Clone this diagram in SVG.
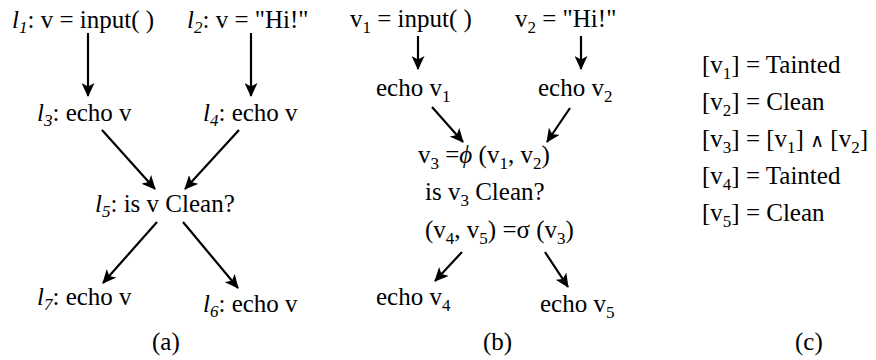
<svg xmlns="http://www.w3.org/2000/svg" width="876" height="360" viewBox="0 0 876 360">
<style>
text{font-family:"Liberation Serif","Times New Roman",serif;font-size:25px;fill:#000}
.i{font-style:italic}
.s{font-size:17px}
.w{font-family:"DejaVu Sans",sans-serif;font-size:19px}
.e{stroke:#000;stroke-width:2.2;fill:none;marker-end:url(#ah)}
</style>
<defs>
<marker id="ah" markerUnits="userSpaceOnUse" markerWidth="15" markerHeight="13" refX="13" refY="6.5" orient="auto">
<path d="M0,0 L14,6.5 L0,13 L3.5,6.5 z" fill="#000"/>
</marker>
</defs>
<rect width="876" height="360" fill="#fff"/>
<g id="connectors">
<line class="e" x1="88" y1="33" x2="88" y2="96"/>
<line class="e" x1="251" y1="33" x2="251" y2="96"/>
<line class="e" x1="102" y1="130" x2="155" y2="189"/>
<line class="e" x1="239" y1="130" x2="185" y2="189"/>
<line class="e" x1="157" y1="222" x2="103" y2="283"/>
<line class="e" x1="183" y1="222" x2="238" y2="288"/>
<line class="e" x1="418" y1="36" x2="418" y2="69"/>
<line class="e" x1="581" y1="36" x2="581" y2="69"/>
<line class="e" x1="432" y1="107" x2="463" y2="142"/>
<line class="e" x1="570" y1="108" x2="547" y2="142"/>
<line class="e" x1="462" y1="252" x2="435" y2="281"/>
<line class="e" x1="545" y1="252" x2="568" y2="287"/>
</g>
<g id="a_l1"><text x="12" y="28"><tspan class="i">l</tspan><tspan class="i s" dy="5">1</tspan><tspan dy="-5">: v = input( )</tspan></text></g>
<g id="a_l2"><text x="187" y="28"><tspan class="i">l</tspan><tspan class="i s" dy="5">2</tspan><tspan dy="-5">: v = "Hi!"</tspan></text></g>
<g id="a_l3"><text x="37" y="121"><tspan class="i">l</tspan><tspan class="i s" dy="5">3</tspan><tspan dy="-5">: echo v</tspan></text></g>
<g id="a_l4"><text x="203" y="121"><tspan class="i">l</tspan><tspan class="i s" dy="5">4</tspan><tspan dy="-5">: echo v</tspan></text></g>
<g id="a_l5"><text x="95" y="212"><tspan class="i">l</tspan><tspan class="i s" dy="5">5</tspan><tspan dy="-5">: is v Clean?</tspan></text></g>
<g id="a_l7"><text x="37" y="305"><tspan class="i">l</tspan><tspan class="i s" dy="5">7</tspan><tspan dy="-5">: echo v</tspan></text></g>
<g id="a_l6"><text x="203" y="312"><tspan class="i">l</tspan><tspan class="i s" dy="5">6</tspan><tspan dy="-5">: echo v</tspan></text></g>
<g id="cap_a"><text x="152" y="350">(a)</text></g>
<g id="b_v1"><text x="350" y="27">v<tspan class="s" dy="6">1</tspan><tspan dy="-6"> = input( )</tspan></text></g>
<g id="b_v2"><text x="515" y="27">v<tspan class="s" dy="6">2</tspan><tspan dy="-6"> = "Hi!"</tspan></text></g>
<g id="b_e1"><text x="376" y="96">echo v<tspan class="s" dy="6">1</tspan></text></g>
<g id="b_e2"><text x="538" y="96">echo v<tspan class="s" dy="6">2</tspan></text></g>
<g id="b_phi"><text x="418" y="163">v<tspan class="s" dy="6">3</tspan><tspan dy="-6"> =</tspan><tspan class="i">ϕ</tspan> (v<tspan class="s" dy="6">1</tspan><tspan dy="-6">, v</tspan><tspan class="s" dy="6">2</tspan><tspan dy="-6">)</tspan></text></g>
<g id="b_is"><text x="425" y="200">is v<tspan class="s" dy="6">3</tspan><tspan dy="-6"> Clean?</tspan></text></g>
<g id="b_sigma"><text x="425" y="238">(v<tspan class="s" dy="6">4</tspan><tspan dy="-6">, v</tspan><tspan class="s" dy="6">5</tspan><tspan dy="-6">) =σ (v</tspan><tspan class="s" dy="6">3</tspan><tspan dy="-6">)</tspan></text></g>
<g id="b_e4"><text x="376" y="305">echo v<tspan class="s" dy="6">4</tspan></text></g>
<g id="b_e5"><text x="540" y="312">echo v<tspan class="s" dy="6">5</tspan></text></g>
<g id="cap_b"><text x="483" y="350">(b)</text></g>
<g id="c1"><text x="702" y="73">[v<tspan class="s" dy="6">1</tspan><tspan dy="-6">] = Tainted</tspan></text></g>
<g id="c2"><text x="702" y="110">[v<tspan class="s" dy="6">2</tspan><tspan dy="-6">] = Clean</tspan></text></g>
<g id="c3"><text x="702" y="147">[v<tspan class="s" dy="6">3</tspan><tspan dy="-6">] = [v</tspan><tspan class="s" dy="6">1</tspan><tspan dy="-6">] </tspan><tspan class="w">∧</tspan> [v<tspan class="s" dy="6">2</tspan><tspan dy="-6">]</tspan></text></g>
<g id="c4"><text x="702" y="184">[v<tspan class="s" dy="6">4</tspan><tspan dy="-6">] = Tainted</tspan></text></g>
<g id="c5"><text x="702" y="221">[v<tspan class="s" dy="6">5</tspan><tspan dy="-6">] = Clean</tspan></text></g>
<g id="cap_c"><text x="795" y="350">(c)</text></g>
</svg>
